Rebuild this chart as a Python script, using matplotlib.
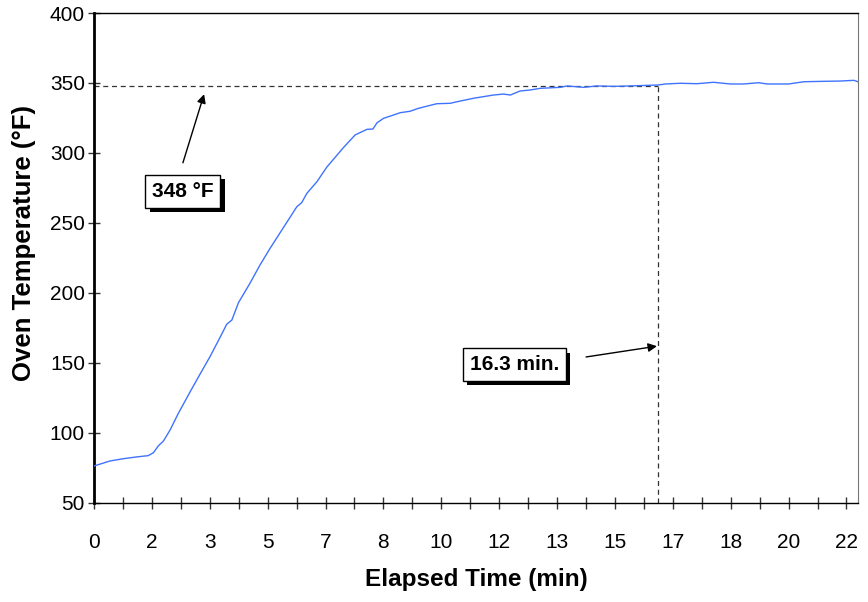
import numpy as np
import matplotlib
matplotlib.use("Agg")
import matplotlib.pyplot as plt
import matplotlib.patheffects as pe

# oven warm-up curve (minutes, deg F)
time_min = [0.0, 0.46, 0.84, 1.23, 1.56, 1.71, 1.85, 2.0, 2.19, 2.43, 2.77, 3.05,
            3.34, 3.63, 3.82, 3.97, 4.16, 4.49, 4.78, 5.07, 5.41, 5.84, 5.98, 6.13,
            6.42, 6.7, 7.18, 7.52, 7.86, 8.03, 8.15, 8.34, 8.62, 8.82, 9.1, 9.34,
            9.87, 10.26, 10.45, 10.93, 11.5, 11.79, 11.99, 12.27, 12.56, 12.85,
            13.43, 13.62, 14.1, 14.48, 14.96, 15.44, 16.26, 16.45, 16.88, 17.36,
            17.84, 18.32, 18.71, 19.14, 19.38, 20.0, 20.44, 21.01, 21.49, 21.88, 22.0]
temp_f = [76.4, 80.0, 81.6, 82.9, 83.8, 85.9, 90.7, 94.3, 102.1, 114.1, 129.5, 141.9,
          154.5, 168.3, 177.6, 180.7, 193.1, 206.9, 220.0, 231.9, 245.0, 261.6, 264.5, 271.2,
          279.5, 289.8, 303.8, 312.9, 316.9, 317.1, 321.6, 324.8, 327.1, 328.8, 329.8, 331.9,
          335.2, 335.5, 336.6, 339.1, 341.4, 342.1, 341.4, 344.3, 345.0, 346.2,
          346.9, 347.9, 346.9, 347.9, 347.6, 347.9, 348.6, 349.3, 349.8, 349.5,
          350.5, 349.3, 349.3, 350.2, 349.3, 349.3, 350.9, 351.2, 351.4, 351.9, 350.9]

# category-style axis: a tick every 50 s, label every 100 s (rounded to whole min)
tick_pos = [i * 50 / 60 for i in range(27)]
tick_labels = [str(int(round(t))) if i % 2 == 0 else "" for i, t in enumerate(tick_pos)]

target_temp = 348
target_time = 16.25

plt.rcParams["font.family"] = ["Liberation Sans", "DejaVu Sans"]

fig = plt.figure(figsize=(8.68, 6.02), dpi=100)
ax = fig.add_axes([0.1083, 0.1645, 0.8802, 0.8139])

ax.plot(time_min, temp_f, color="#3f73ff", lw=1.0, zorder=3)

# reference lines
ax.plot([0, target_time], [target_temp, target_temp], color="#333333", lw=0.9,
        dashes=(4, 3), zorder=2)
ax.plot([target_time, target_time], [50, target_temp], color="#333333", lw=0.9,
        dashes=(4, 3), zorder=2)

ax.set_xlim(0, 22.0)
ax.set_ylim(50, 400)
ax.set_yticks(np.arange(50, 401, 50))
ax.set_xticks(tick_pos)
ax.set_xticklabels(tick_labels)

ax.tick_params(axis="both", direction="inout", length=9, width=1, labelsize=15,
               color="#333333")
ax.tick_params(axis="x", pad=17)
ax.tick_params(axis="y", pad=2)

ax.spines["left"].set_linewidth(2)
ax.spines["bottom"].set_linewidth(1)
ax.spines["top"].set_linewidth(1)
ax.spines["right"].set_color("#777777")

ax.set_xlabel("Elapsed Time (min)", fontsize=17.5, fontweight="bold", labelpad=12)
ax.set_ylabel("Oven Temperature (°F)", fontsize=18.5, fontweight="bold")
ax.yaxis.set_label_coords(-0.076, 0.53)


def boxed_label(x, y, txt):
    t = ax.text(x, y, txt, ha="center", va="center", fontsize=15, fontweight="bold",
                bbox=dict(boxstyle="square,pad=0.32", fc="white", ec="black", lw=1), zorder=5)
    # drop shadow on the box, like the old excel callouts
    t.get_bbox_patch().set_path_effects([
        pe.SimplePatchShadow(offset=(3, -3), shadow_rgbFace="black", alpha=1),
        pe.Normal()])


arrow = dict(arrowstyle="-|>", color="black", lw=1, mutation_scale=13, shrinkA=0, shrinkB=0)
ax.annotate("", xy=(3.17, 342), xytext=(2.56, 293), arrowprops=arrow)
ax.annotate("", xy=(16.21, 162), xytext=(14.17, 154.3), arrowprops=arrow)

boxed_label(2.56, 272.5, "348 °F")
boxed_label(12.1, 148.9, "16.3 min.")

fig.savefig("out.png", dpi=100)
